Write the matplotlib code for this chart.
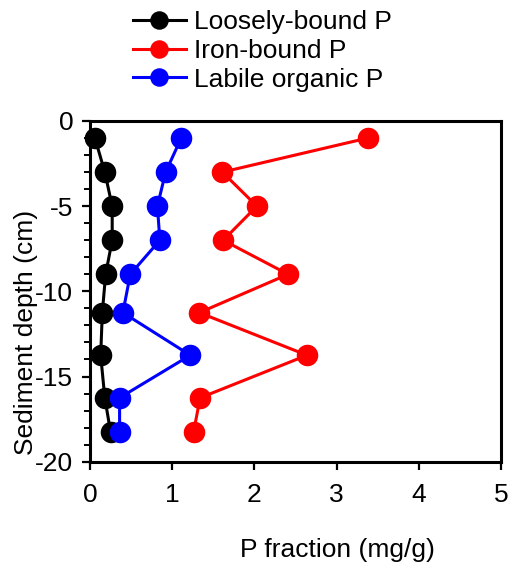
import matplotlib
matplotlib.use("Agg")
import matplotlib.pyplot as plt
from matplotlib.ticker import MultipleLocator

plt.rcParams['font.family'] = ['Liberation Sans', 'DejaVu Sans']
plt.rcParams['axes.unicode_minus'] = False

depth = [-1, -3, -5, -7, -9, -11.25, -13.75, -16.25, -18.25]
loosely_bound = [0.06, 0.18, 0.27, 0.27, 0.19, 0.15, 0.13, 0.18, 0.25]
iron_bound = [3.38, 1.61, 2.03, 1.62, 2.41, 1.33, 2.64, 1.34, 1.26]
labile_organic = [1.11, 0.92, 0.82, 0.85, 0.49, 0.40, 1.22, 0.36, 0.36]

series = [
    ("Loosely-bound P", loosely_bound, "black"),
    ("Iron-bound P", iron_bound, "red"),
    ("Labile organic P", labile_organic, "blue"),
]

W, H = 510, 563
fig = plt.figure(figsize=(W / 100, H / 100), dpi=100)
ax = fig.add_axes([90 / W, 1 - 461.7 / H, 411 / W, 340.7 / H])

fs = 19
for label, vals, col in series:
    ax.plot(vals, depth, '-o', color=col, lw=2.2, markersize=14.5, label=label,
            clip_on=False, zorder=3)

ax.set_xlim(0, 5)
ax.set_ylim(-20, 0)
ax.xaxis.set_major_locator(MultipleLocator(1))
ax.yaxis.set_major_locator(MultipleLocator(5))
ax.yaxis.set_minor_locator(MultipleLocator(1))
for s in ax.spines.values():
    s.set_linewidth(2.2)
ax.tick_params(axis='x', which='major', direction='out', length=6, width=1.6,
               labelsize=fs, pad=9)
ax.tick_params(axis='y', which='major', direction='out', length=6, width=1.6,
               labelsize=fs, pad=6)
ax.tick_params(axis='y', which='minor', direction='out', length=4, width=1.4)

ax.set_xlabel("P fraction (mg/g)", fontsize=fs)
ax.xaxis.set_label_coords(0.603, -0.26)
ax.xaxis.label.set_va('center')
ax.set_ylabel("Sediment depth (cm)", fontsize=fs)
ax.yaxis.set_label_coords(-0.155, 0.378)
ax.yaxis.label.set_va('center')

leg = fig.legend(loc='upper left', bbox_to_anchor=(133 / W, 1 - 10 / H),
                 frameon=False, fontsize=fs, handlelength=2.0,
                 handletextpad=0.3, labelspacing=0.18, borderaxespad=0,
                 borderpad=0, markerscale=0.85)

fig.savefig("out.png", dpi=100)
